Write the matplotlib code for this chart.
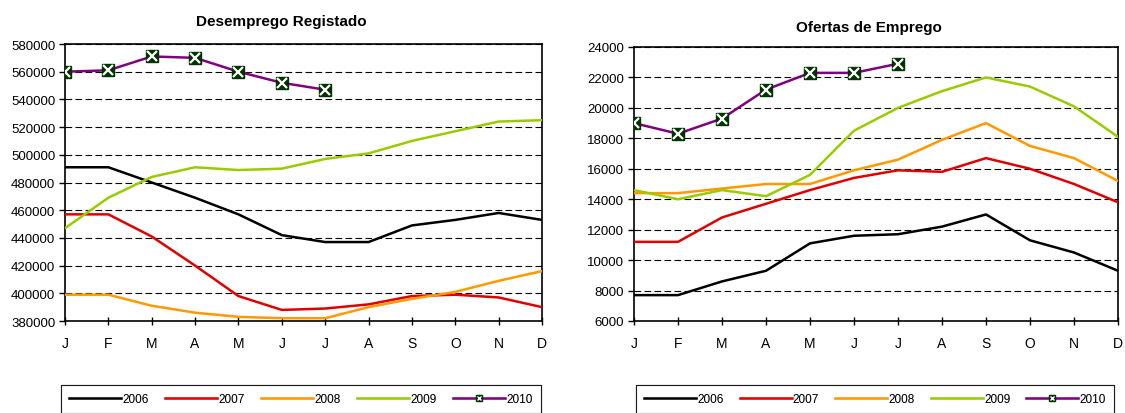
import numpy as np
import matplotlib
matplotlib.use('Agg')
from matplotlib import pyplot as plt
from matplotlib.lines import Line2D
from matplotlib.legend_handler import HandlerTuple

plt.rcParams['font.family'] = ['Liberation Sans', 'DejaVu Sans']

months = ['J', 'F', 'M', 'A', 'M', 'J', 'J', 'A', 'S', 'O', 'N', 'D']
years = ['2006', '2007', '2008', '2009', '2010']

# Desemprego Registado
desemp_2006 = [491000, 491000, 480000, 469000, 457000, 442000, 437000, 437000, 449000, 453000, 458000, 453000]
desemp_2007 = [457000, 457000, 441000, 420000, 398000, 388000, 389000, 392000, 398000, 399000, 397000, 390000]
desemp_2008 = [399000, 399000, 391000, 386000, 383000, 382000, 382000, 390000, 396000, 401000, 409000, 416000]
desemp_2009 = [447000, 469000, 484000, 491000, 489000, 490000, 497000, 501000, 510000, 517000, 524000, 525000]
desemp_2010 = [560000, 561000, 571000, 570000, 560000, 552000, 547000]

# Ofertas de Emprego
ofertas_2006 = [7700, 7700, 8600, 9300, 11100, 11600, 11700, 12200, 13000, 11300, 10500, 9300]
ofertas_2007 = [11200, 11200, 12800, 13700, 14600, 15400, 15900, 15800, 16700, 16000, 15000, 13800]
ofertas_2008 = [14400, 14400, 14700, 15000, 15000, 15900, 16600, 17900, 19000, 17500, 16700, 15200]
ofertas_2009 = [14600, 14000, 14600, 14200, 15600, 18500, 20000, 21100, 22000, 21400, 20100, 18100]
ofertas_2010 = [19000, 18300, 19300, 21200, 22300, 22300, 22900]

colors = ['#000000', '#e00000', '#ff9900', '#99cc00', '#800080']
mk_color = '#003300'


def draw_panel(ax, series, yticks, ylim):
    for i, vals in enumerate(series):
        x = np.arange(len(vals))
        if i < 4:
            ax.plot(x, vals, color=colors[i], lw=1.8, zorder=3)
        else:
            ax.plot(x, vals, color=colors[i], lw=1.8, marker='s', ms=8.5,
                    mfc=mk_color, mec=mk_color, zorder=4)
            ax.plot(x, vals, ls='none', marker='x', ms=6.5, mew=1.6,
                    color='white', zorder=5)
    ax.set_xlim(0, 11)
    ax.set_ylim(*ylim)
    ax.set_xticks(range(12))
    ax.set_xticklabels(months, fontsize=10)
    ax.set_yticks(yticks)
    ax.set_yticklabels([str(v) for v in yticks], fontsize=9.5)
    for v in yticks[1:]:
        ax.axhline(v, color='black', lw=0.8, ls=(0, (6, 3)), zorder=1)
    for s in ax.spines.values():
        s.set_linewidth(1.2)
    ax.tick_params(axis='x', direction='inout', length=6, width=1, pad=8)
    ax.tick_params(axis='y', direction='out', length=4, width=1, pad=3)


fig = plt.figure(figsize=(11.25, 4.14), dpi=100)

ax1 = fig.add_axes([65/1125, 1-322/414, (542-65)/1125, (322-45)/414])
draw_panel(ax1, [desemp_2006, desemp_2007, desemp_2008, desemp_2009, desemp_2010],
           list(range(380000, 580001, 20000)), (380000, 580000))
fig.text(281/1125, 1-22/414, 'Desemprego Registado', ha='center', va='center',
         fontsize=11, fontweight='bold')

ax2 = fig.add_axes([634/1125, 1-322/414, (1118-634)/1125, (322-48)/414])
draw_panel(ax2, [ofertas_2006, ofertas_2007, ofertas_2008, ofertas_2009, ofertas_2010],
           list(range(6000, 24001, 2000)), (6000, 24000))
fig.text(869/1125, 1-28/414, 'Ofertas de Emprego', ha='center', va='center',
         fontsize=11, fontweight='bold')

# legend proxies (small marker for 2010)
handles = [Line2D([], [], color=c, lw=1.8) for c in colors[:4]]
handles.append((Line2D([], [], color=colors[4], lw=1.8, marker='s', ms=5,
                       mfc=mk_color, mec=mk_color),
                Line2D([], [], ls='none', marker='x', ms=3.5, mew=1.0, color='white')))

for x0, x1 in [(55, 547), (630, 1120)]:
    leg = fig.legend(handles, years, loc='upper left', ncol=5, mode='expand',
                     bbox_to_anchor=(x0/1125, 1-380/414, (x1-x0)/1125, 0.0),
                     fontsize=8.5, handlelength=4.4, handletextpad=0.1,
                     borderpad=0.7, fancybox=False, edgecolor='black',
                     handler_map={tuple: HandlerTuple(ndivide=1)})
    leg.get_frame().set_linewidth(0.8)
    fig.add_artist(leg)

fig.savefig('out.png', dpi=100)
